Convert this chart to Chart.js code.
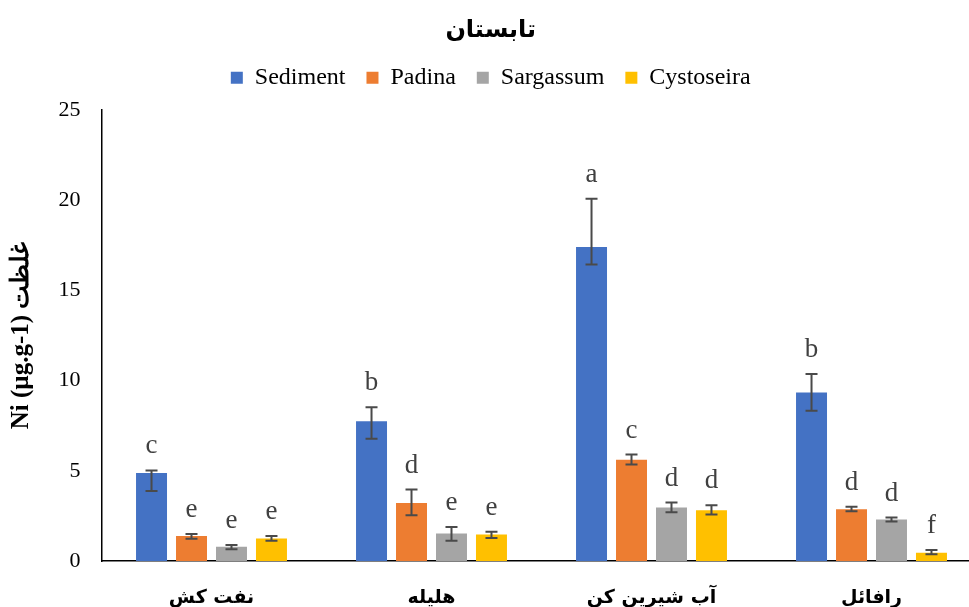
<!DOCTYPE html>
<html>
<head>
<meta charset="utf-8">
<script src="https://cdn.jsdelivr.net/npm/chart.js@4/dist/chart.umd.min.js"></script>
<style>
  html, body { margin: 0; padding: 0; background: #ffffff; overflow: hidden; }
  #wrap { width: 969px; height: 607px; overflow: hidden; }
  canvas { display: block; }
</style>
</head>
<body>
<div id="wrap"><canvas id="chart" width="990" height="607"></canvas></div>
<script>
// Sampling sites
const categories = ['نفت کش', 'هلیله', 'آب شیرین کن', 'رافائل'];

// Ni concentration (µg.g-1), summer
const sediment   = [4.87, 7.74, 17.40, 9.34];
const padina     = [1.38, 3.22, 5.61, 2.87];
const sargassum  = [0.79, 1.53, 2.96, 2.30];
const cystoseira = [1.25, 1.47, 2.81, 0.46];

// Error bar extents above / below each mean
const sedimentPlus    = [0.15, 0.78, 2.67, 1.02];
const sedimentMinus   = [0.99, 0.97, 0.97, 1.01];
const padinaPlus      = [0.11, 0.74, 0.29, 0.13];
const padinaMinus     = [0.15, 0.68, 0.26, 0.11];
const sargassumPlus   = [0.09, 0.36, 0.28, 0.11];
const sargassumMinus  = [0.14, 0.41, 0.26, 0.11];
const cystoseiraPlus  = [0.13, 0.15, 0.28, 0.15];
const cystoseiraMinus = [0.13, 0.20, 0.23, 0.09];

// Significance groups
const sedimentLetters   = ['c', 'b', 'a', 'b'];
const padinaLetters     = ['e', 'd', 'c', 'd'];
const sargassumLetters  = ['e', 'e', 'd', 'd'];
const cystoseiraLetters = ['e', 'e', 'd', 'f'];

const yTicks = [0, 5, 10, 15, 20, 25];

const SERIF = "'Liberation Serif', 'Times New Roman', serif";
const ARABIC = "'DejaVu Sans', sans-serif";

function series(label, data, plus, minus, letters, color) {
  return {
    label, data,
    errPlus: plus, errMinus: minus, letters,
    backgroundColor: color,
    borderWidth: 0,
    barPercentage: 0.775,
    categoryPercentage: 0.727
  };
}

// Draws asymmetric error bars and the group letters above them
const errorBars = {
  id: 'errorBars',
  afterDatasetsDraw(chart) {
    const { ctx, scales: { y } } = chart;
    ctx.save();
    chart.data.datasets.forEach((ds, i) => {
      const meta = chart.getDatasetMeta(i);
      if (meta.hidden) return;
      meta.data.forEach((bar, j) => {
        const v = ds.data[j];
        const top = y.getPixelForValue(v + ds.errPlus[j]);
        const bot = y.getPixelForValue(v - ds.errMinus[j]);
        const x = bar.x;
        ctx.strokeStyle = '#4a4a4a';
        ctx.lineWidth = 2;
        ctx.beginPath();
        ctx.moveTo(x, top); ctx.lineTo(x, bot);
        ctx.moveTo(x - 6, top); ctx.lineTo(x + 6, top);
        ctx.moveTo(x - 6, bot); ctx.lineTo(x + 6, bot);
        ctx.stroke();
        ctx.fillStyle = '#404040';
        ctx.font = '27px ' + SERIF;
        ctx.textAlign = 'center';
        ctx.textBaseline = 'alphabetic';
        ctx.fillText(ds.letters[j], x, top - 17);
      });
    });
    ctx.restore();
  }
};

// Extra space between the legend row and the plot
const legendGap = {
  id: 'legendGap',
  beforeLayout(chart) {
    const lg = chart.legend;
    if (lg && !lg._gapAdded) {
      const fit = lg.fit;
      lg.fit = function () { fit.call(this); this.height += 10; };
      lg._gapAdded = true;
    }
  }
};

new Chart(document.getElementById('chart'), {
  type: 'bar',
  data: {
    labels: categories,
    datasets: [
      series('Sediment',   sediment,   sedimentPlus,   sedimentMinus,   sedimentLetters,   '#4472C4'),
      series('Padina',     padina,     padinaPlus,     padinaMinus,     padinaLetters,     '#ED7D31'),
      series('Sargassum',  sargassum,  sargassumPlus,  sargassumMinus,  sargassumLetters,  '#A5A5A5'),
      series('Cystoseira', cystoseira, cystoseiraPlus, cystoseiraMinus, cystoseiraLetters, '#FFC000')
    ]
  },
  options: {
    responsive: false,
    devicePixelRatio: 1,
    animation: false,
    layout: { padding: { left: 0, right: 8.5, top: 0, bottom: 0 } },
    plugins: {
      tooltip: { enabled: false },
      title: {
        display: true,
        text: 'تابستان',
        color: '#000000',
        font: { family: ARABIC, size: 24, weight: 'bold' },
        padding: { top: 16, bottom: 0 }
      },
      legend: {
        position: 'top',
        labels: {
          color: '#000000',
          font: { family: SERIF, size: 24 },
          boxWidth: 12,
          boxHeight: 12,
          padding: 21
        }
      }
    },
    scales: {
      x: {
        grid: { display: false, drawTicks: false },
        border: { display: true, color: '#000000', width: 1.5 },
        ticks: {
          color: '#000000',
          font: { family: ARABIC, size: 19, weight: 'bold' },
          padding: 26,
          maxRotation: 0
        },
        afterFit(scale) { scale.height = 46; }
      },
      y: {
        min: 0,
        max: 25,
        afterBuildTicks(scale) { scale.ticks = yTicks.map(v => ({ value: v })); },
        grid: { display: false, drawTicks: false },
        border: { display: true, color: '#000000', width: 1.5 },
        ticks: {
          color: '#000000',
          font: { family: SERIF, size: 22 },
          padding: 21
        },
        title: {
          display: true,
          text: 'Ni (µg.g-1) غلظت',
          color: '#000000',
          font: { family: SERIF, size: 25, weight: 'bold' },
          padding: { top: 7, bottom: 0 }
        },
        afterFit(scale) { scale.width = 101.5; }
      }
    }
  },
  plugins: [errorBars, legendGap]
});
</script>
</body>
</html>
